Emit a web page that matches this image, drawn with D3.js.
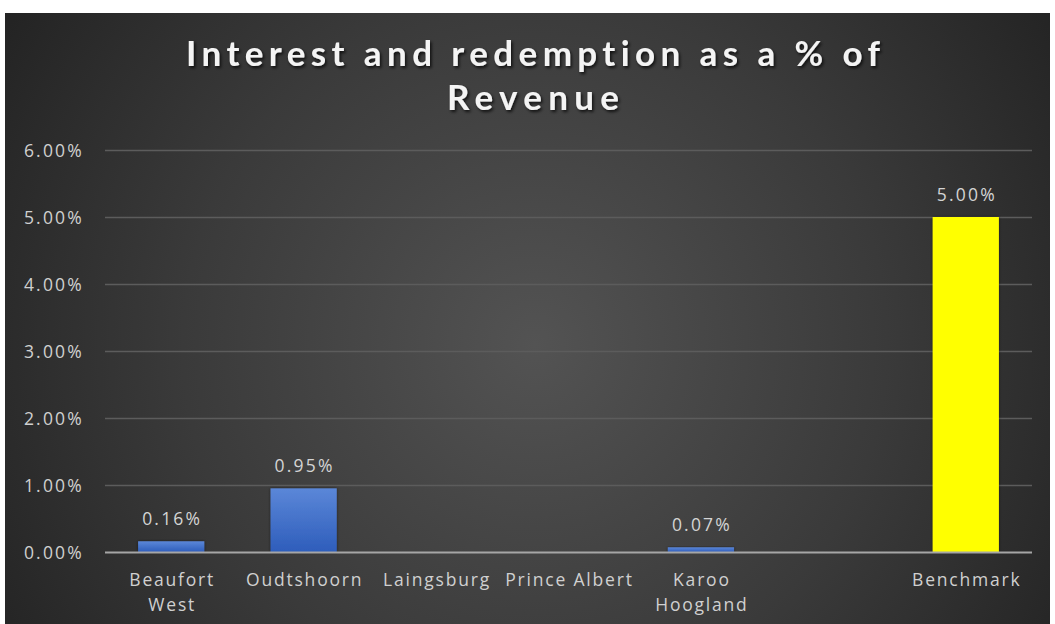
<!DOCTYPE html>
<html>
<head>
<meta charset="utf-8">
<script src="https://cdn.jsdelivr.net/npm/d3@7"></script>
<style>
  html, body { margin: 0; padding: 0; background: #ffffff; }
  svg { display: block; }
  text { font-variant-ligatures: none; }
</style>
</head>
<body>
<svg id="chart" width="1055" height="624"></svg>
<script>
// Chart data
const titleLines = ["Interest and redemption as a % of", "Revenue"];
const categories = ["Beaufort West", "Oudtshoorn", "Laingsburg", "Prince Albert", "Karoo Hoogland", "", "Benchmark"];
const tickLabels = [["Beaufort", "West"], ["Oudtshoorn"], ["Laingsburg"], ["Prince Albert"], ["Karoo", "Hoogland"], [""], ["Benchmark"]];
const values = [0.16, 0.95, null, null, 0.07, null, 5.00];
const yTicks = [0, 1, 2, 3, 4, 5, 6];

const svg = d3.select("#chart");
const W = 1055, H = 624;
const plot = { left: 105, right: 1032, top: 150, bottom: 552 };
const labelFont = "'Open Sans', sans-serif";

const defs = svg.append("defs");

// Dark radial background
const bg = defs.append("radialGradient")
  .attr("id", "bgGrad")
  .attr("gradientUnits", "userSpaceOnUse")
  .attr("cx", 535).attr("cy", 345).attr("r", 640);
bg.append("stop").attr("offset", "0%").attr("stop-color", "#535353");
bg.append("stop").attr("offset", "55%").attr("stop-color", "#3a3a3a");
bg.append("stop").attr("offset", "100%").attr("stop-color", "#222222");

// Blue bar fill
const blue = defs.append("linearGradient")
  .attr("id", "blueGrad").attr("x1", 0).attr("y1", 0).attr("x2", 0).attr("y2", 1);
blue.append("stop").attr("offset", "0%").attr("stop-color", "#5b87d8");
blue.append("stop").attr("offset", "100%").attr("stop-color", "#2e5dbb");

// Title shadow
const shadow = defs.append("filter").attr("id", "titleShadow")
  .attr("x", "-10%").attr("y", "-30%").attr("width", "120%").attr("height", "160%");
shadow.append("feDropShadow")
  .attr("dx", 1.5).attr("dy", 2).attr("stdDeviation", 1.4)
  .attr("flood-color", "#000").attr("flood-opacity", 0.75);

const barShadow = defs.append("filter").attr("id", "barShadow")
  .attr("x", "-20%").attr("y", "-20%").attr("width", "140%").attr("height", "140%");
barShadow.append("feDropShadow")
  .attr("dx", 0).attr("dy", 0).attr("stdDeviation", 1.5)
  .attr("flood-color", "#000").attr("flood-opacity", 0.5);

svg.append("rect")
  .attr("x", 5).attr("y", 13).attr("width", 1045).attr("height", H - 13)
  .attr("fill", "url(#bgGrad)");

// Scales
const x = d3.scaleBand()
  .domain(categories.map((c, i) => i))
  .range([plot.left, plot.right])
  .paddingInner(0.5).paddingOuter(0.25);

const y = d3.scaleLinear().domain([0, 6]).range([plot.bottom, plot.top]);

// Gridlines
svg.append("g").selectAll("line")
  .data(yTicks.filter(t => t > 0))
  .join("line")
  .attr("x1", plot.left).attr("x2", plot.right)
  .attr("y1", d => y(d) + 0.5).attr("y2", d => y(d) + 0.5)
  .attr("stroke", "#5c5c5c").attr("stroke-width", 1.3);

// Y-axis labels
const yAxis = d3.axisLeft(y).tickValues(yTicks)
  .tickFormat(d => d3.format(".2f")(d) + "%").tickSize(0).tickPadding(0);
const yG = svg.append("g").attr("transform", `translate(${plot.left - 21},0)`).call(yAxis);
yG.select(".domain").remove();
yG.selectAll("text")
  .attr("fill", "#d0d0d0")
  .attr("font-family", labelFont)
  .attr("font-size", 17.5)
  .attr("letter-spacing", 2.2)
  .attr("dy", "0.36em");

// Bars
const data = categories.map((c, i) => ({ i, c, v: values[i] })).filter(d => d.v != null);
svg.append("g").selectAll("rect")
  .data(data)
  .join("rect")
  .attr("x", d => x(d.i))
  .attr("width", x.bandwidth())
  .attr("y", d => y(d.v))
  .attr("height", d => y(0) - y(d.v))
  .attr("fill", d => d.c === "Benchmark" ? "#ffff00" : "url(#blueGrad)")
  .attr("filter", "url(#barShadow)");

// Zero axis line
svg.append("line")
  .attr("x1", plot.left).attr("x2", plot.right)
  .attr("y1", y(0) + 0.5).attr("y2", y(0) + 0.5)
  .attr("stroke", "#a6a6a6").attr("stroke-width", 1.8);

// Value labels
svg.append("g").selectAll("text")
  .data(data)
  .join("text")
  .attr("x", d => x(d.i) + x.bandwidth() / 2 + 1)
  .attr("y", d => y(d.v) - 16)
  .attr("text-anchor", "middle")
  .attr("fill", "#d4d4d4")
  .attr("font-family", labelFont)
  .attr("font-size", 17.5)
  .attr("letter-spacing", 2.2)
  .text(d => d3.format(".2f")(d.v) + "%");

// Category labels
const xl = svg.append("g").selectAll("text")
  .data(tickLabels.map((lines, i) => ({ i, lines })))
  .join("text")
  .attr("x", d => x(d.i) + x.bandwidth() / 2)
  .attr("y", 586)
  .attr("text-anchor", "middle")
  .attr("fill", "#d0d0d0")
  .attr("font-family", labelFont)
  .attr("font-size", 17.5)
  .attr("letter-spacing", 1.8);
xl.selectAll("tspan")
  .data(d => d.lines.map((l, k) => ({ l, k, cx: x(d.i) + x.bandwidth() / 2 + 1 })))
  .join("tspan")
  .attr("x", d => d.cx)
  .attr("dy", d => d.k === 0 ? 0 : 25)
  .text(d => d.l);

// Title
const titleG = svg.append("g").attr("filter", "url(#titleShadow)");
const titleY = [66, 110];
const titleW = [694, 172];
titleLines.forEach((t, k) => {
  titleG.append("text")
    .attr("x", 533)
    .attr("y", titleY[k])
    .attr("text-anchor", "middle")
    .attr("fill", "#f4f4f4")
    .attr("font-family", "Lato, 'Open Sans', sans-serif")
    .attr("font-weight", 700)
    .attr("font-size", 35)
    .attr("textLength", titleW[k])
    .attr("lengthAdjust", "spacing")
    .text(t);
});
</script>
</body>
</html>
